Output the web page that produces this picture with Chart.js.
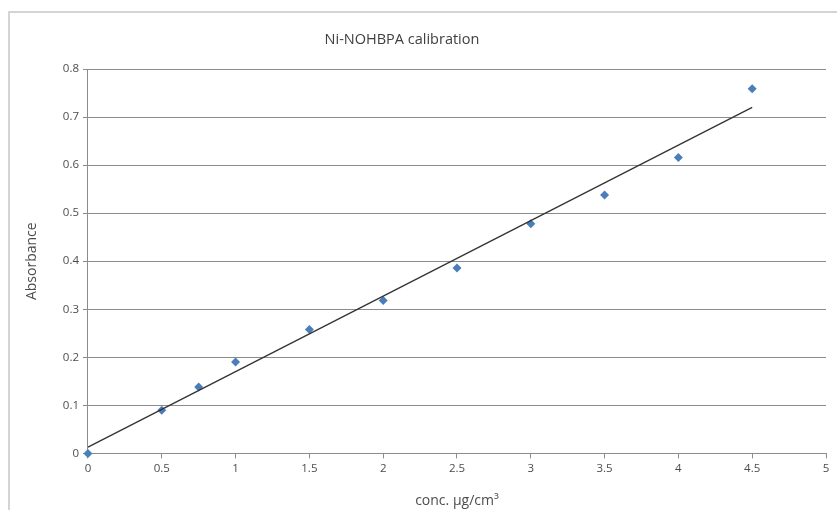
<!DOCTYPE html>
<html>
<head>
<meta charset="utf-8">
<script src="https://cdn.jsdelivr.net/npm/chart.js@4/dist/chart.umd.min.js"></script>
<style>
  html, body { margin: 0; padding: 0; background: #fff; }
  #wrap { position: relative; width: 837px; height: 510px; }
</style>
</head>
<body>
<div id="wrap"><canvas id="calChart" width="837" height="510"></canvas></div>
<script>
// values
const conc = [0, 0.5, 0.75, 1, 1.5, 2, 2.5, 3, 3.5, 4, 4.5];
const absorbance = [0, 0.09, 0.138, 0.19, 0.258, 0.318, 0.386, 0.478, 0.538, 0.616, 0.759];
const trendX = [0, 4.5];
const trendY = [0.013, 0.72];
const titleText = 'Ni-NOHBPA calibration';

const textColor = '#4d4d4d';
const tickFont = { family: 'Open Sans', size: 11.5 };
const titleFont = { family: 'Open Sans', size: 14 };

// frame + title drawn like the spreadsheet chart
const frame = {
    id: 'frame',
    beforeDraw(chart) {
        const c = chart.ctx;
        c.save();
        c.fillStyle = '#fff';
        c.fillRect(0, 0, chart.width, chart.height);
        c.strokeStyle = '#d4d4d4';
        c.lineWidth = 2;
        c.strokeRect(9, 12, chart.width + 10, chart.height + 10);
        c.restore();
    },
    afterDraw(chart) {
        const c = chart.ctx;
        c.save();
        c.font = '14.5px "Open Sans"';
        c.fillStyle = '#404040';
        c.textAlign = 'center';
        c.textBaseline = 'middle';
        c.fillText(titleText, 402, 40);
        c.restore();
    }
};

const plain = v => String(Math.round(v * 10) / 10);

new Chart(document.getElementById('calChart').getContext('2d'), {
    type: 'scatter',
    data: {
        datasets: [{
            label: 'Absorbance',
            data: conc.map((x, i) => ({ x: x, y: absorbance[i] })),
            pointStyle: 'rectRot',
            pointRadius: 4.5,
            backgroundColor: '#4a7ebb',
            borderColor: '#4a7ebb',
            borderWidth: 0,
            clip: false,
            order: 1
        }, {
            type: 'line',
            label: 'Linear',
            data: trendX.map((x, i) => ({ x: x, y: trendY[i] })),
            borderColor: '#333333',
            borderWidth: 1.3,
            pointRadius: 0,
            fill: false,
            order: 0
        }]
    },
    options: {
        animation: false,
        responsive: false,
        layout: { padding: { left: 24, right: 11, top: 69, bottom: 1 } },
        plugins: {
            legend: { display: false },
            tooltip: { enabled: false }
        },
        scales: {
            x: {
                type: 'linear',
                min: 0,
                max: 5,
                ticks: { stepSize: 0.5, color: textColor, font: tickFont, padding: 3, callback: plain },
                grid: { drawOnChartArea: false, color: '#8c8c8c', tickLength: 5 },
                border: { color: '#8c8c8c' },
                title: { display: true, text: 'conc. μg/cm³', color: textColor, font: titleFont, padding: { top: 14, bottom: 0 } }
            },
            y: {
                min: 0,
                max: 0.8,
                ticks: { stepSize: 0.1, color: textColor, font: tickFont, padding: 4, callback: plain },
                grid: { color: '#8c8c8c', tickLength: 5 },
                border: { color: '#8c8c8c' },
                title: { display: true, text: 'Absorbance', color: textColor, font: titleFont, padding: { top: 0, bottom: 18 } }
            }
        }
    },
    plugins: [frame]
});
</script>
</body>
</html>
